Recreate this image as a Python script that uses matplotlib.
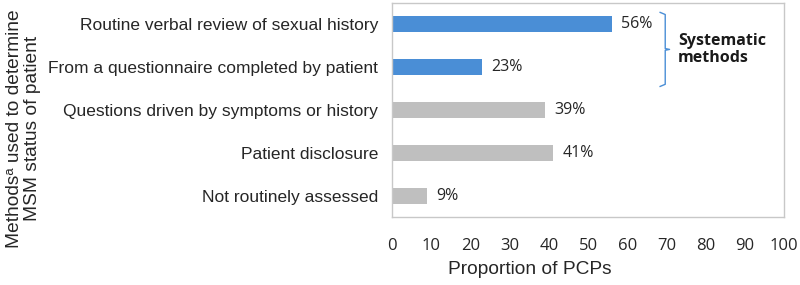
import matplotlib.pyplot as plt

# data
methods = ["Routine verbal review of sexual history",
           "From a questionnaire completed by patient",
           "Questions driven by symptoms or history",
           "Patient disclosure",
           "Not routinely assessed"]
pct = [56, 23, 39, 41, 9]
systematic = [True, True, False, False, False]
xticks = [0, 10, 20, 30, 40, 50, 60, 70, 80, 90, 100]

blue = "#4a8ed6"
grey = "#bfbfbf"
lab_font = "Liberation Sans"
num_font = "Open Sans"

fig = plt.figure(figsize=(8, 2.85), dpi=100)
ax = fig.add_axes([0.49, 0.2386, 0.49, 0.751])

ypos = list(range(len(methods)))
colors = [blue if s else grey for s in systematic]
ax.barh(ypos, pct, height=0.37, color=colors)

for y, v in zip(ypos, pct):
    ax.text(v + 2.4, y, f"{v}%", va="center", ha="left",
            fontsize=11.5, family=num_font, color="#262626")

ax.set_xlim(0, 100)
ax.set_ylim(4.5, -0.5)
ax.set_xticks(xticks)
ax.set_xticklabels([str(t) for t in xticks], family=num_font, fontsize=12,
                   color="#262626")
ax.set_yticks(ypos)
ax.set_yticklabels(methods, family=lab_font, fontsize=12.5, color="#262626")
ax.tick_params(axis="x", length=0, pad=15)
ax.tick_params(axis="y", length=0, pad=10)
for sp in ax.spines.values():
    sp.set_color("#c8c8c8")
    sp.set_linewidth(1)

fig.text(530 / 800, 1 - 270 / 285, "Proportion of PCPs", ha="center",
         va="center", family=lab_font, fontsize=13.8, color="#262626")

fig.text(0.029, 0.55, "Methods\u1d43 used to determine\nMSM status of patient",
         rotation=90, ha="center", va="center", family=lab_font,
         fontsize=13.8, color="#262626", linespacing=1.05)

# brace grouping the systematic methods
bx0, bx1, bx2 = 68.4, 69.7, 70.8
top, bot = -0.28, 1.45
mid = (top + bot) / 2
ax.plot([bx0, bx1, bx1, bx2, bx1, bx1, bx0],
        [top, top + 0.05, mid - 0.02, mid, mid + 0.02, bot - 0.05, bot],
        color=blue, lw=1, clip_on=False)
ax.text(73.0, mid, "Systematic\nmethods", ha="left", va="center",
        family=num_font, fontweight="bold", fontsize=11.5, color="#1a1a1a",
        linespacing=1.1)

fig.savefig("out.png", dpi=100)
